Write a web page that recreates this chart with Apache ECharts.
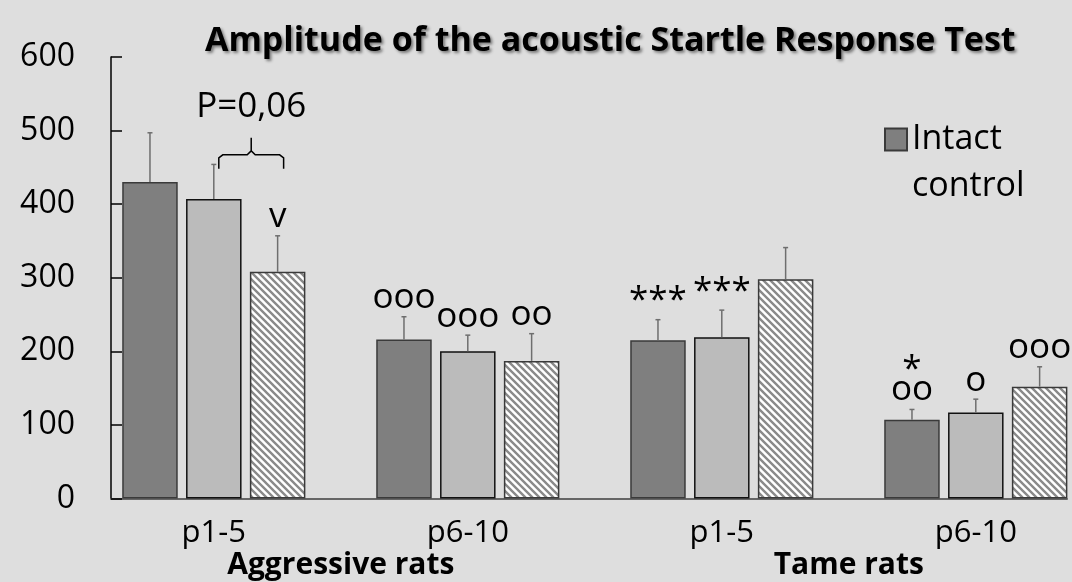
<!DOCTYPE html>
<html>
<head>
<meta charset="utf-8">
<script src="https://cdn.jsdelivr.net/npm/echarts@6/dist/echarts.min.js"></script>
<style>
  html, body { margin: 0; padding: 0; background: #dedede; }
  #chart { width: 1072px; height: 582px; }
</style>
</head>
<body>
<div id="chart"></div>
<script>
// data
const categories = ['p1-5', 'p6-10', 'p1-5', 'p6-10'];
const groups = ['Aggressive rats', 'Tame rats'];
const yTicks = [0, 100, 200, 300, 400, 500, 600];

const intactControl = [430, 216, 215, 107];
const series2 = [407, 200, 219, 117];
const series3 = [308, 187, 298, 152];

const intactErr = [67, 31, 28, 14];
const series2Err = [47, 22, 37, 18];
const series3Err = [49, 37, 43, 27];

// significance marks above each bar
const intactMarks = ['', 'ooo', '***', '*\noo'];
const series2Marks = ['', 'ooo', '***', 'o'];
const series3Marks = ['v', 'oo', '', 'ooo'];

// bracket between bar 2 and bar 3 of the first group
const bracketGroup = 0;
const bracketLevel = 448;
const bracketText = 'P=0,06';

const FONT = '"Open Sans", "Noto Sans", sans-serif';
const BAR_RATIO = 0.2185;
const GAP_RATIO = 0.15;

function hatchPattern() {
  const c = document.createElement('canvas');
  c.width = 7; c.height = 7;
  const g = c.getContext('2d');
  g.fillStyle = '#ffffff';
  g.fillRect(0, 0, 7, 7);
  g.strokeStyle = '#8a8a8a';
  g.lineWidth = 2.4;
  g.beginPath();
  [-7, 0, 7].forEach((k) => {
    g.moveTo(-1, -1 + k);
    g.lineTo(8, 8 + k);
  });
  g.stroke();
  return c;
}

function barX(api, idx, k) {
  const band = api.size([1, 0])[0];
  const bw = band * BAR_RATIO;
  return api.coord([idx, 0])[0] + (k - 1) * bw * (1 + GAP_RATIO);
}

function errorBars(k, marks) {
  return (params, api) => {
    const idx = api.value(0);
    const x = barX(api, idx, k);
    const yTop = api.coord([idx, api.value(1)])[1];
    const yErr = api.coord([idx, api.value(1) + api.value(2)])[1];
    const children = [
      { type: 'line', shape: { x1: x, y1: yTop, x2: x, y2: yErr },
        style: { stroke: '#6e6e6e', lineWidth: 1.5 } },
      { type: 'line', shape: { x1: x - 2.5, y1: yErr, x2: x + 2.5, y2: yErr },
        style: { stroke: '#6e6e6e', lineWidth: 1.5 } }
    ];
    const m = marks[params.dataIndex];
    if (m) {
      const multi = m.indexOf('\n') >= 0;
      children.push({
        type: 'text',
        style: {
          text: m, x: x, y: yErr - (multi ? 9 : 1),
          align: 'center', verticalAlign: 'bottom',
          font: '35px ' + FONT, lineHeight: multi ? 20 : 35,
          fill: '#000'
        }
      });
    }
    return { type: 'group', children: children };
  };
}

function bracket(params, api) {
  const idx = api.value(0);
  const x1 = barX(api, idx, 1) + 5;
  const x2 = barX(api, idx, 2) + 6;
  const xc = (x1 + x2) / 2;
  const yEnd = api.coord([idx, api.value(1)])[1];
  const yMid = yEnd - 14;
  const yTip = yEnd - 31;
  return {
    type: 'group',
    children: [
      {
        type: 'polyline',
        shape: {
          points: [
            [x1, yEnd], [x1, yMid + 3], [x1 + 4, yMid], [xc - 4, yMid], [xc, yMid - 4], [xc, yTip],
            [xc, yMid - 4], [xc + 4, yMid], [x2 - 4, yMid], [x2, yMid + 3], [x2, yEnd]
          ]
        },
        style: { stroke: '#000', lineWidth: 1.5, fill: null }
      },
      {
        type: 'text',
        style: {
          text: bracketText, x: xc, y: yEnd - 62,
          align: 'center', verticalAlign: 'middle',
          font: '35px ' + FONT, fill: '#000'
        }
      }
    ]
  };
}

const chart = echarts.init(document.getElementById('chart'));

const barSeries = [
  { name: 'Intact control', data: intactControl,
    itemStyle: { color: '#7f7f7f', borderColor: '#3a3a3a', borderWidth: 1.5 } },
  { name: 'Series 2', data: series2,
    itemStyle: { color: '#bbbbbb', borderColor: '#111111', borderWidth: 1.5 } },
  { name: 'Series 3', data: series3,
    itemStyle: { color: { image: hatchPattern(), repeat: 'repeat' }, borderColor: '#3a3a3a', borderWidth: 1.5 } }
].map((s) => ({
  ...s,
  type: 'bar',
  xAxisIndex: 0,
  yAxisIndex: 0,
  barWidth: (BAR_RATIO * 100) + '%',
  barGap: (GAP_RATIO * 100) + '%',
  silent: true
}));

const errSeries = [
  [intactControl, intactErr, intactMarks],
  [series2, series2Err, series2Marks],
  [series3, series3Err, series3Marks]
].map(([vals, errs, marks], k) => ({
  type: 'custom',
  xAxisIndex: 0,
  yAxisIndex: 0,
  renderItem: errorBars(k, marks),
  data: vals.map((v, i) => [i, v, errs[i]]),
  encode: { x: 0, y: 1 },
  z: 5,
  silent: true
}));

chart.setOption({
  backgroundColor: '#dedede',
  animation: false,
  title: {
    text: 'Amplitude of the acoustic Startle Response Test',
    left: 200,
    top: 19,
    textStyle: {
      fontFamily: FONT,
      fontSize: 34,
      fontWeight: 'bold',
      color: '#000',
      textShadowColor: 'rgba(0,0,0,0.45)',
      textShadowBlur: 3,
      textShadowOffsetX: 2,
      textShadowOffsetY: 2
    }
  },
  legend: {
    data: ['Intact control'],
    left: 884,
    top: 69,
    padding: 0,
    icon: 'rect',
    itemWidth: 22,
    itemHeight: 22,
    formatter: () => ' \nIntact\ncontrol',
    textStyle: {
      fontFamily: FONT,
      fontSize: 34,
      color: '#000',
      lineHeight: 47
    }
  },
  grid: [
    { left: 86.8, width: 1016, top: 57, bottom: 83.5, outerBoundsMode: 'none' },
    { left: 111, right: 5, top: 57, bottom: 83.5, outerBoundsMode: 'none' }
  ],
  xAxis: [
    {
      type: 'category',
      gridIndex: 0,
      data: categories,
      axisLine: { show: false },
      axisTick: { show: false },
      axisLabel: { interval: 0, margin: 19, fontFamily: FONT, fontSize: 31, lineHeight: 31, color: '#000' }
    },
    {
      type: 'category',
      gridIndex: 0,
      position: 'bottom',
      data: groups,
      axisLine: { show: false },
      axisTick: { show: false },
      axisLabel: { interval: 0, margin: 52, fontFamily: FONT, fontSize: 30, lineHeight: 30, fontWeight: 'bold', color: '#000' }
    },
    {
      type: 'value',
      gridIndex: 1,
      min: 0,
      max: 1,
      axisLine: { show: true, lineStyle: { color: '#666', width: 2 } },
      axisTick: { show: false },
      axisLabel: { show: false },
      splitLine: { show: false }
    }
  ],
  yAxis: [
    {
      type: 'value',
      gridIndex: 0,
      min: yTicks[0],
      max: yTicks[yTicks.length - 1],
      interval: 100,
      show: false
    },
    {
      type: 'value',
      gridIndex: 1,
      min: yTicks[0],
      max: yTicks[yTicks.length - 1],
      interval: 100,
      axisLine: { show: true, lineStyle: { color: '#000', width: 1.5 } },
      axisTick: { show: true, inside: true, length: 11, lineStyle: { color: '#000', width: 1.5 } },
      axisLabel: { margin: 36, fontFamily: FONT, fontSize: 32, color: '#000' },
      splitLine: { show: false }
    }
  ],
  series: [
    ...barSeries,
    ...errSeries,
    {
      type: 'custom',
      xAxisIndex: 0,
      yAxisIndex: 0,
      renderItem: bracket,
      data: [[bracketGroup, bracketLevel]],
      encode: { x: 0, y: 1 },
      z: 5,
      silent: true
    }
  ]
});
</script>
</body>
</html>
